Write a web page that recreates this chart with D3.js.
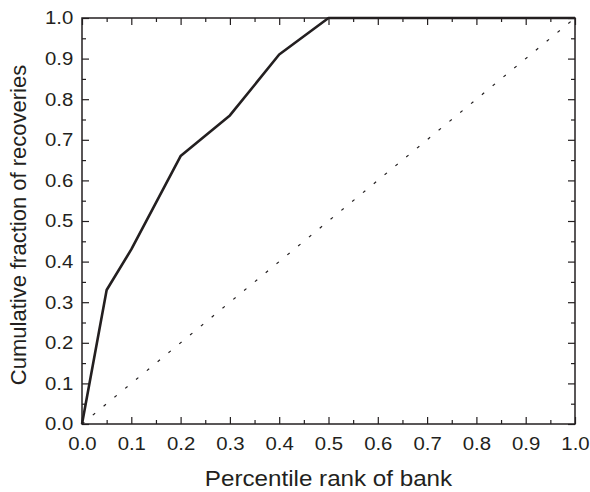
<!DOCTYPE html>
<html>
<head>
<meta charset="utf-8">
<script src="https://cdn.jsdelivr.net/npm/d3@7"></script>
<style>
body { margin: 0; background: #fff; }
text { font-family: "Liberation Sans", Arial, sans-serif; fill: #231f20; }
</style>
</head>
<body>
<svg id="chart" width="590" height="492"></svg>
<script>
// bank percentile vs cumulative recoveries
var rankValues = [0, 0.05, 0.1, 0.2, 0.3, 0.4, 0.5, 1.0];
var fractionValues = [0, 0.33, 0.43, 0.66, 0.76, 0.91, 1.0, 1.0];
var diagonal = [0, 1];
var tickLabels = ["0.0","0.1","0.2","0.3","0.4","0.5","0.6","0.7","0.8","0.9","1.0"];

var margin = {left: 82, top: 18, right: 15, bottom: 68};
var W = 590, H = 492;
var plotW = W - margin.left - margin.right,
	plotH = H - margin.top - margin.bottom;

var svg = d3.select("#chart");
var g = svg.append("g").attr("transform", "translate(" + margin.left + "," + margin.top + ")");

var x = d3.scaleLinear().domain([0, 1]).range([0, plotW]);
var y = d3.scaleLinear().domain([0, 1]).range([plotH, 0]);

var majors = d3.range(0, 11).map(function(i) { return i / 10; });
var minors = d3.range(0, 10).map(function(i) { return i / 10 + 0.05; });
var MAJOR = 7, MINOR = 4;

function tickAxis(axisFn, scale, vals, len) {
	return axisFn(scale).tickValues(vals).tickSizeInner(len).tickSizeOuter(0).tickFormat("");
}

function styleAxis(sel) {
	sel.select(".domain").remove();
	sel.selectAll("line").attr("stroke", "#231f20").attr("stroke-width", 1.2);
	// labels in the original are a bit wider than tall
	sel.selectAll("text").style("font-size", "18.5px").attr("fill", "#231f20")
		.attr("transform", "scale(1.1,1)");
}

// bottom
g.append("g").attr("transform", "translate(0," + plotH + ")")
	.call(tickAxis(d3.axisTop, x, majors, MAJOR)).call(styleAxis);
g.append("g").attr("transform", "translate(0," + plotH + ")")
	.call(tickAxis(d3.axisTop, x, minors, MINOR)).call(styleAxis);
g.append("g").attr("transform", "translate(0," + plotH + ")")
	.call(d3.axisBottom(x).tickValues(majors).tickSize(0).tickPadding(13)
		.tickFormat(function(d, i) { return tickLabels[i]; }))
	.call(styleAxis);
// top
g.append("g").call(tickAxis(d3.axisBottom, x, majors, MAJOR)).call(styleAxis);
g.append("g").call(tickAxis(d3.axisBottom, x, minors, MINOR)).call(styleAxis);
// left
g.append("g").call(tickAxis(d3.axisRight, y, majors, MAJOR)).call(styleAxis);
g.append("g").call(tickAxis(d3.axisRight, y, minors, MINOR)).call(styleAxis);
g.append("g")
	.call(d3.axisLeft(y).tickValues(majors).tickSize(0).tickPadding(8)
		.tickFormat(function(d, i) { return tickLabels[i]; }))
	.call(styleAxis);
// right
g.append("g").attr("transform", "translate(" + plotW + ",0)")
	.call(tickAxis(d3.axisLeft, y, majors, MAJOR)).call(styleAxis);
g.append("g").attr("transform", "translate(" + plotW + ",0)")
	.call(tickAxis(d3.axisLeft, y, minors, MINOR)).call(styleAxis);

// frame
g.append("rect").attr("width", plotW).attr("height", plotH)
	.attr("fill", "none").attr("stroke", "#231f20").attr("stroke-width", 1.5);

// reference diagonal
g.append("path")
	.datum(diagonal)
	.attr("fill", "none")
	.attr("stroke", "#231f20")
	.attr("stroke-width", 1.2)
	.attr("stroke-dasharray", "3,11")
	.attr("d", d3.line().x(function(d) { return x(d); }).y(function(d) { return y(d); }));

// curve
var pts = rankValues.map(function(r, i) { return [r, fractionValues[i]]; });
g.append("path")
	.datum(pts)
	.attr("fill", "none")
	.attr("stroke", "#231f20")
	.attr("stroke-width", 2.6)
	.attr("stroke-linejoin", "round")
	.attr("d", d3.line().x(function(d) { return x(d[0]); }).y(function(d) { return y(d[1]); }));

// axis titles
svg.append("text")
	.attr("transform", "translate(" + (margin.left + plotW / 2) + ",486) scale(1.1,1)")
	.attr("text-anchor", "middle")
	.style("font-size", "22px")
	.text("Percentile rank of bank");

svg.append("text")
	.attr("transform", "translate(26,225) rotate(-90)")
	.attr("text-anchor", "middle")
	.style("font-size", "22px")
	.text("Cumulative fraction of recoveries");
</script>
</body>
</html>
